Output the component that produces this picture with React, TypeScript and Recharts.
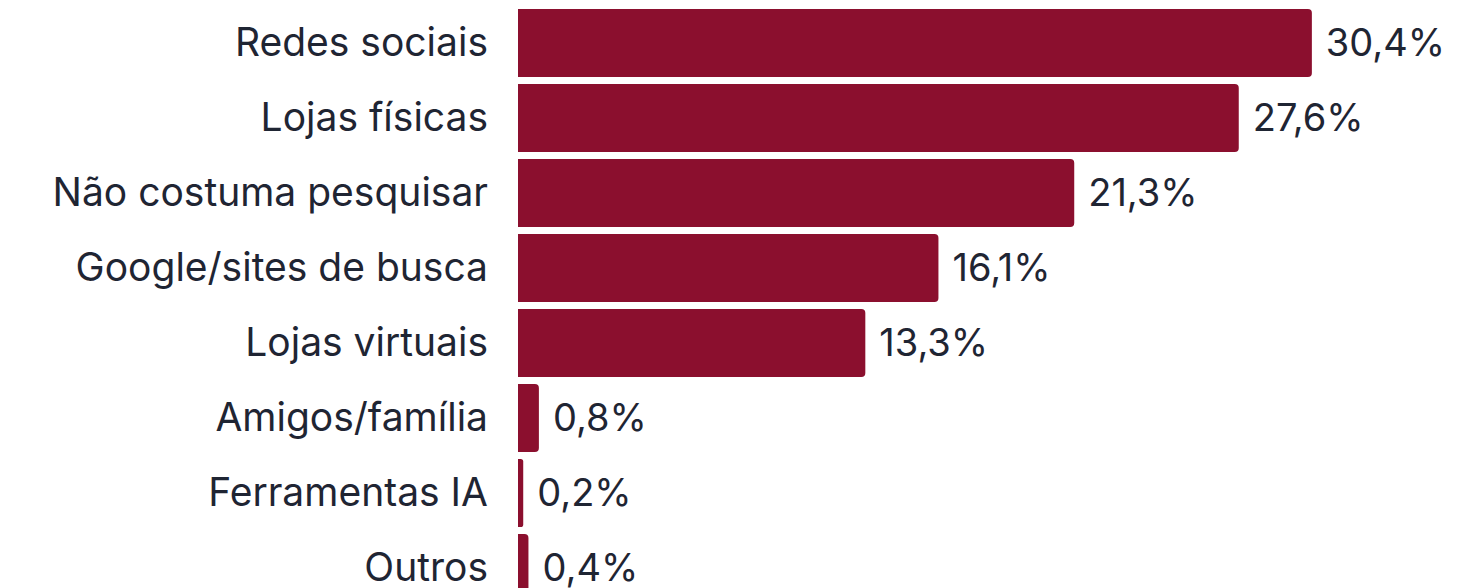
import React from "react";
import { BarChart, Bar, XAxis, YAxis, LabelList } from "recharts";

const categories = [
  "Redes sociais",
  "Lojas físicas",
  "Não costuma pesquisar",
  "Google/sites de busca",
  "Lojas virtuais",
  "Amigos/família",
  "Ferramentas IA",
  "Outros",
];
const values = [30.4, 27.6, 21.3, 16.1, 13.3, 0.8, 0.2, 0.4];

const data = categories.map((name, i) => ({ name, value: values[i] }));

const FONT = "Inter, 'Noto Sans', sans-serif";
const TEXT = "#1f2533";
const BAR = "#8b0f2e";

export default function App() {
  return (
    <div style={{ position: "absolute", left: 0, top: 0 }}>
      <BarChart
        width={1468}
        height={610}
        data={data}
        layout="vertical"
        margin={{ top: 5, right: 36, bottom: 5, left: 0 }}
      >
        <XAxis type="number" domain={[0, 35]} hide />
        <YAxis
          type="category"
          dataKey="name"
          width={518}
          axisLine={false}
          tickLine={false}
          tickSize={0}
          tickMargin={30}
          interval={0}
          tick={{ fill: TEXT, fontSize: 39, fontFamily: FONT }}
        />
        <Bar
          dataKey="value"
          fill={BAR}
          barSize={68}
          radius={[0, 4, 4, 0]}
          isAnimationActive={false}
        >
          <LabelList
            dataKey="value"
            position="right"
            offset={14}
            formatter={(v: number) => `${String(v).replace(".", ",")}%`}
            style={{ fill: TEXT, fontSize: 38, fontFamily: FONT }}
          />
        </Bar>
      </BarChart>
    </div>
  );
}
